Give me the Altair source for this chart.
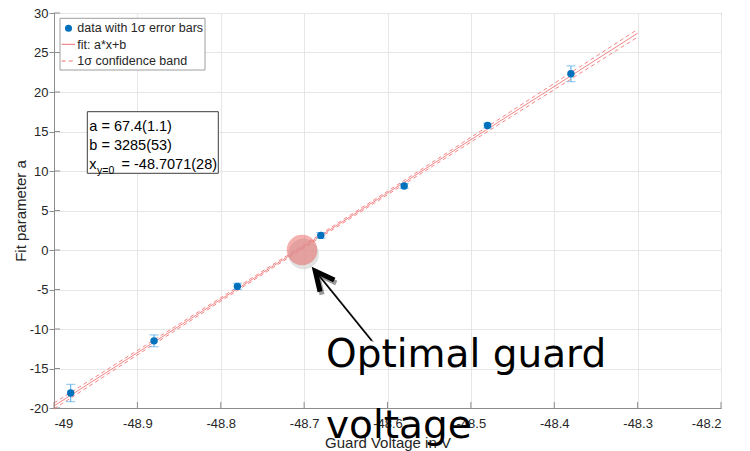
import altair as alt
import pandas as pd

# ---------------- data ----------------
volt = [-48.98, -48.88, -48.78, -48.68, -48.58, -48.48, -48.38]
param = [-18.1, -11.5, -4.6, 1.85, 8.1, 15.75, 22.3]
err = [1.1, 0.75, 0.4, 0.35, 0.3, 0.3, 1.0]

fit_x = [-49.0, -48.3]
fit_y = [-19.74, 27.44]

band_x = [-49.0, -48.9, -48.8, -48.7, -48.6, -48.5, -48.4, -48.3]
band_fit = [-19.74, -13.00, -6.26, 0.48, 7.22, 13.96, 20.70, 27.44]
band_half = [0.37, 0.28, 0.22, 0.19, 0.22, 0.30, 0.39, 0.49]

x_ticks = [-49.0, -48.9, -48.8, -48.7, -48.6, -48.5, -48.4, -48.3, -48.2]
y_ticks = [-20, -15, -10, -5, 0, 5, 10, 15, 20, 25, 30]

hl_x = [-48.7025]
hl_y = [0.0]

legend_labels = ["data with 1σ error bars", "fit: a*x+b", "1σ confidence band"]
box_lines = ["a = 67.4(1.1)", "b = 3285(53)"]
box_x0 = ["x", "y=0", "= -48.7071(28)"]
annot_lines = ["Optimal guard", "voltage"]

# ---------------- layout ----------------
W, H = 667, 395
GREY = "#8c8c8c"
TXT = "#262626"
FONT = "Liberation Sans"

xs = alt.Scale(domain=[-49, -48.2], nice=False, zero=False)
ys = alt.Scale(domain=[-20, 30], nice=False, zero=False)
lab = "(datum.value < 0 ? '-' : '') + format(abs(datum.value), '~g')"

xaxis = alt.Axis(values=x_ticks, labelExpr=lab, title="Guard Voltage in V",
                 ticks=False, labelPadding=9, grid=True,
                 titleX=W / 2, titleY=34.5, titleBaseline="middle")
yaxis = alt.Axis(values=y_ticks, labelExpr=lab, title="Fit parameter a",
                 tickSize=5, tickColor=GREY, labelPadding=1, grid=True,
                 titleX=-29, titleY=H / 2, titleAngle=270,
                 titleAlign="center", titleBaseline="alphabetic")

X = alt.X("x:Q", scale=xs, axis=xaxis)
Y = alt.Y("y:Q", scale=ys, axis=yaxis)

pts = pd.DataFrame({"x": volt, "y": param, "e": err})
pts["lo"] = pts["y"] - pts["e"]
pts["hi"] = pts["y"] + pts["e"]

band = pd.DataFrame({"x": band_x, "f": band_fit, "h": band_half})
band_up = pd.DataFrame({"x": band["x"], "y": band["f"] + band["h"]})
band_lo = pd.DataFrame({"x": band["x"], "y": band["f"] - band["h"]})
fit = pd.DataFrame({"x": fit_x, "y": fit_y})
hl = pd.DataFrame({"x": hl_x, "y": hl_y})
one = pd.DataFrame({"k": [0]})

FITC = "#F07070"

layers = []

# inward ticks
layers.append(alt.Chart(pd.DataFrame({"x": x_ticks})).mark_rule(color=GREY, strokeWidth=1).encode(
    x=X, y=alt.value(H), y2=alt.value(H - 6)))
layers.append(alt.Chart(pd.DataFrame({"y": y_ticks})).mark_rule(color=GREY, strokeWidth=1).encode(
    y=Y, x=alt.value(0), x2=alt.value(6)))

# fit line + band
layers.append(alt.Chart(fit).mark_line(color=FITC, strokeWidth=1, opacity=0.85).encode(x=X, y=Y))
for d in (band_up, band_lo):
    layers.append(alt.Chart(d).mark_line(color=FITC, strokeWidth=1, strokeDash=[4, 3], opacity=0.85).encode(x=X, y=Y))

# error bars
EB = "#4FA8E8"
layers.append(alt.Chart(pts).mark_rule(color=EB, strokeWidth=1).encode(
    x=X, y=alt.Y("lo:Q", scale=ys, axis=yaxis), y2="hi:Q"))
for f in ("lo", "hi"):
    layers.append(alt.Chart(pts).mark_tick(color=EB, orient="horizontal", size=9, thickness=1).encode(
        x=X, y=alt.Y(f + ":Q", scale=ys, axis=yaxis)))
layers.append(alt.Chart(pts).mark_point(filled=True, shape="circle", size=55, color="#0072BD", opacity=1).encode(x=X, y=Y))

# legend box
layers.append(alt.Chart(one).mark_rect(fill="white", stroke="#9e9e9e", strokeWidth=1).encode(
    x=alt.value(6), x2=alt.value(151), y=alt.value(5.3), y2=alt.value(57)))
layers.append(alt.Chart(one).mark_point(filled=True, shape="circle", size=50, color="#0072BD", opacity=1).encode(
    x=alt.value(14.5), y=alt.value(15.3)))
layers.append(alt.Chart(one).mark_rule(color=FITC, strokeWidth=1).encode(
    x=alt.value(7.7), x2=alt.value(21), y=alt.value(31.3)))
layers.append(alt.Chart(one).mark_rule(color=FITC, strokeWidth=1, strokeDash=[4, 3]).encode(
    x=alt.value(7.7), x2=alt.value(21), y=alt.value(48)))
for i, t in enumerate(legend_labels):
    layers.append(alt.Chart(one).mark_text(text=t, font=FONT, fontSize=12.5, color=TXT, align="left",
                                           baseline="middle").encode(
        x=alt.value(23.3), y=alt.value([15.3, 31.5, 48][i])))

# fit results box
layers.append(alt.Chart(one).mark_rect(fill="white", stroke="#3c3c3c", strokeWidth=1).encode(
    x=alt.value(33.3), x2=alt.value(164.3), y=alt.value(98.7), y2=alt.value(160.3)))
for i, t in enumerate(box_lines):
    layers.append(alt.Chart(one).mark_text(text=t, font=FONT, fontSize=14.5, color="black", align="left",
                                           baseline="alphabetic").encode(
        x=alt.value(35.3), y=alt.value([118, 137][i])))
layers.append(alt.Chart(one).mark_text(text=box_x0[0], font=FONT, fontSize=14.5, color="black", align="left",
                                       baseline="alphabetic").encode(x=alt.value(35.3), y=alt.value(156)))
layers.append(alt.Chart(one).mark_text(text=box_x0[1], font=FONT, fontSize=10.5, color="black", align="left",
                                       baseline="alphabetic").encode(x=alt.value(43), y=alt.value(161)))
layers.append(alt.Chart(one).mark_text(text=box_x0[2], font=FONT, fontSize=14.5, color="black", align="left",
                                       baseline="alphabetic").encode(x=alt.value(67.5), y=alt.value(156)))

# highlight circle
layers.append(alt.Chart(hl).mark_point(filled=True, shape="circle", size=940, color="#d4d4d4", opacity=0.7,
                                       xOffset=1.5, yOffset=4).encode(x=X, y=Y))
layers.append(alt.Chart(hl).mark_point(filled=True, shape="circle", size=940, color="#E8504F", opacity=0.45).encode(x=X, y=Y))

# arrow (tip at 257.7, 253.7 relative to plot origin)
head = "M0,0 L2.37,1.10 L2.15,1.56 L0.72,0.89 L1.08,2.44 L0.59,2.55 Z"
tx, ty = 257.7, 253.7
layers.append(alt.Chart(one).mark_rule(color="#9a9a9a", strokeWidth=1.5).encode(
    x=alt.value(tx + 7 + 1.6), y=alt.value(ty + 8.6 + 1.2), x2=alt.value(317.7 + 1.6), y2=alt.value(327.7 + 1.2)))
layers.append(alt.Chart(one).mark_point(shape=head, size=400, filled=True, color="#9a9a9a", opacity=1,
                                        strokeOpacity=0).encode(x=alt.value(tx + 2), y=alt.value(ty + 3)))
layers.append(alt.Chart(one).mark_rule(color="black", strokeWidth=1.5).encode(
    x=alt.value(tx + 7), y=alt.value(ty + 8.6), x2=alt.value(317.7), y2=alt.value(327.7)))
layers.append(alt.Chart(one).mark_point(shape=head, size=400, filled=True, color="black", opacity=1,
                                        strokeOpacity=0).encode(x=alt.value(tx), y=alt.value(ty)))

# annotation text
for i, t in enumerate(annot_lines):
    layers.append(alt.Chart(one).mark_text(text=t, font="DejaVu Sans", fontSize=39, color="black",
                                           align="left", baseline="alphabetic").encode(
        x=alt.value(272), y=alt.value([353.7, 425.3][i])))

chart = alt.layer(*layers).properties(
    width=W, height=H,
    padding={"left": 54, "top": 13, "right": 29, "bottom": 43},
    autosize=alt.AutoSizeParams(type="none"),
    background="white",
).configure_view(stroke=GREY, strokeWidth=1).configure_axis(
    domainColor=GREY, labelFont=FONT, labelFontSize=13, labelColor=TXT,
    gridColor="#e6e6e6", titleFont=FONT, titleFontSize=15, titleFontWeight="normal", titleColor=TXT,
)

chart.save("out.html", embed_options={"renderer": "svg", "actions": False})
